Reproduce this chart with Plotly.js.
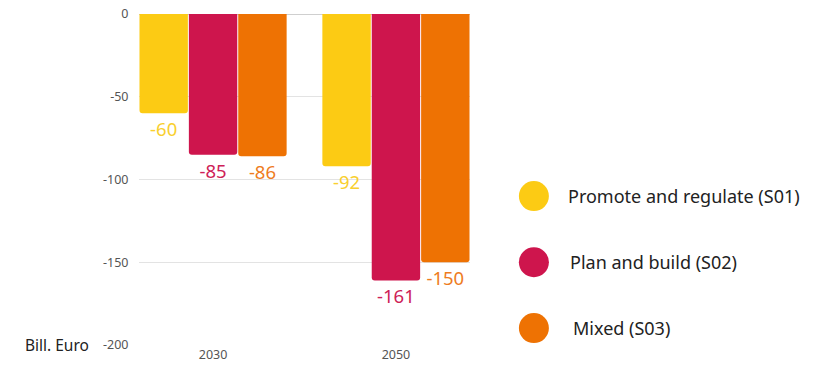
<!DOCTYPE html>
<html><head><meta charset="utf-8">
<script src="https://cdn.plot.ly/plotly-3.0.1.min.js"></script>
<style>html,body{margin:0;padding:0;background:#fff}#c{width:825px;height:367px}</style>
</head><body><div id="c"></div>
<script>
const categories = ['2030', '2050'];
const seriesNames = ['Promote and regulate (S01)', 'Plan and build (S02)', 'Mixed (S03)'];
const s01 = [-60, -92];
const s02 = [-85, -161];
const s03 = [-86, -150];
const yTicks = [0, -50, -100, -150, -200];
const yLabel = 'Bill. Euro';

const colors = ['#FCCB14', '#CE154D', '#EE7203'];
const textColors = ['#F9CF2E', '#CE2157', '#EE7C1E'];
const series = [s01, s02, s03];
const FONT = 'Noto Sans, Open Sans, sans-serif';

const traces = series.map((vals, i) => ({
  type: 'bar', x: categories, y: vals, name: seriesNames[i],
  marker: {color: colors[i], line: {width: 0}, cornerradius: 3},
  text: vals.map(v => String(v)), textposition: 'outside',
  textfont: {family: FONT, size: 18.5, color: textColors[i]},
  cliponaxis: false, showlegend: false, hoverinfo: 'skip'
}));

const legendY = [0.45, 0.25, 0.051];
const shapes = [], annotations = [];
seriesNames.forEach((n, i) => {
  shapes.push({type: 'circle', xref: 'paper', yref: 'paper', xsizemode: 'pixel', ysizemode: 'pixel',
    xanchor: 1.193, yanchor: legendY[i], x0: -15, x1: 15, y0: -15, y1: 15,
    fillcolor: colors[i], line: {width: 0}});
  annotations.push({xref: 'paper', yref: 'paper', x: 1.29 + [0, 0.006, 0.015][i], y: legendY[i], xanchor: 'left', yanchor: 'middle',
    text: n, showarrow: false, font: {family: FONT, size: 18, color: '#222'}});
});
annotations.push({xref: 'paper', yref: 'paper', x: -0.35, y: 0, xanchor: 'left', yanchor: 'middle',
  text: yLabel, showarrow: false, font: {family: FONT, size: 15.5, color: '#222'}});

const layout = {
  width: 825, height: 367,
  margin: {l: 139, r: 355, t: 14, b: 22},
  paper_bgcolor: '#fff', plot_bgcolor: '#fff',
  barmode: 'group', bargap: 0.19, bargroupgap: 0.02,
  font: {family: FONT},
  xaxis: {type: 'category', range: [-0.405, 1.405], showgrid: false, zeroline: false, showline: false,
    ticks: '', tickfont: {family: FONT, size: 12.5, color: '#555'}, fixedrange: true},
  yaxis: {range: [-200, 0], tickvals: yTicks, ticktext: yTicks.map(String), showgrid: true, gridcolor: '#e3e3e3',
    zeroline: true, zerolinecolor: '#cfcfcf', zerolinewidth: 1, showline: false,
    ticks: 'outside', ticklen: 7, tickcolor: 'rgba(0,0,0,0)',
    tickfont: {family: FONT, size: 12.5, color: '#555'}, fixedrange: true},
  shapes, annotations
};
Plotly.newPlot('c', traces, layout, {displayModeBar: false, staticPlot: true});
</script></body></html>
